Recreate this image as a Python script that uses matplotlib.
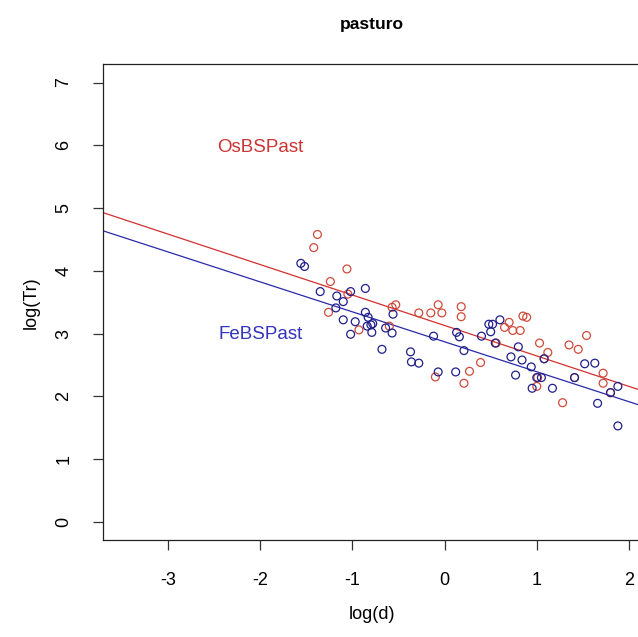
import matplotlib
matplotlib.use('Agg')
import matplotlib.pyplot as plt
import numpy as np

plt.rcParams['font.family'] = ['Liberation Sans', 'DejaVu Sans']
plt.rcParams['axes.unicode_minus'] = False

# OsBSPast (red) points, log(d) vs log(Tr)
os_x = [-1.38, -1.42, -1.06, -1.24, -1.05, -1.26, -0.93, -0.53, -0.57, -0.28,
        -0.15, -0.07, -0.03, -0.60, 0.18, 0.18, 0.85, 0.89, 0.70, 0.65,
        0.74, 0.82, 0.56, 1.54, 1.03, 1.12, 1.08, 1.35, 1.45, 0.39,
        0.27, 0.21, 1.41, 1.01, 1.00, 1.28, 1.72, 1.72, 1.80, -0.10]
os_y = [4.58, 4.37, 4.03, 3.83, 3.63, 3.34, 3.06, 3.46, 3.42, 3.33,
        3.33, 3.46, 3.33, 3.12, 3.43, 3.27, 3.28, 3.26, 3.18, 3.10,
        3.05, 3.05, 2.85, 2.97, 2.85, 2.70, 2.60, 2.82, 2.75, 2.54,
        2.40, 2.21, 2.30, 2.30, 2.16, 1.90, 2.37, 2.21, 2.06, 2.31]

# FeBSPast (blue) points
fe_x = [-1.56, -1.52, -1.35, -0.86, -1.17, -1.02, -1.10, -1.18, -1.10, -0.97,
        -1.02, -0.86, -0.83, -0.80, -0.84, -0.78, -0.79, -0.64, -0.57, -0.56,
        -0.12, -0.68, -0.37, -0.36, -0.28, -0.07, 0.60, 0.48, 0.52, 0.50,
        0.13, 0.16, 0.40, 0.55, 0.80, 0.21, 0.72, 0.84, 0.94, 1.08,
        1.52, 1.63, 0.12, 0.77, 1.00, 1.05, 0.95, 1.17, 1.41, 1.66,
        1.88, 1.88, 1.80]
fe_y = [4.12, 4.07, 3.67, 3.72, 3.60, 3.67, 3.51, 3.41, 3.22, 3.19,
        2.99, 3.34, 3.26, 3.14, 3.12, 3.16, 3.02, 3.09, 3.01, 3.31,
        2.96, 2.75, 2.71, 2.55, 2.53, 2.39, 3.22, 3.15, 3.15, 3.03,
        3.02, 2.95, 2.96, 2.85, 2.79, 2.73, 2.63, 2.58, 2.47, 2.60,
        2.52, 2.53, 2.39, 2.34, 2.30, 2.30, 2.13, 2.13, 2.30, 1.89,
        2.16, 1.53, 2.06]

# fitted lines (intercept, slope)
os_fit = (3.13, -0.485)
fe_fit = (2.87, -0.477)

red_pt = '#cf4a3a'
blue_pt = '#1f1f8a'
red_ln = '#d03030'
blue_ln = '#2a2aa8'

fig = plt.figure(figsize=(6.38, 6.37), dpi=100)
ax = fig.add_axes([0.161, 0.152, 0.845, 0.747])

xlim = (-3.71, 2.14)
ax.set_xlim(*xlim)
ax.set_ylim(-0.29, 7.29)

ax.scatter(os_x, os_y, s=32, facecolors='none', edgecolors=red_pt, linewidths=0.9, zorder=3)
ax.scatter(fe_x, fe_y, s=32, facecolors='none', edgecolors=blue_pt, linewidths=0.9, zorder=3)

xx = np.array(xlim)
ax.plot(xx, os_fit[0] + os_fit[1] * xx, color=red_ln, linewidth=0.9)
ax.plot(xx, fe_fit[0] + fe_fit[1] * xx, color=blue_ln, linewidth=0.9)

ax.text(-2.0, 5.97, 'OsBSPast', color='#cc3333', fontsize=13.5, ha='center', va='center')
ax.text(-2.0, 2.98, 'FeBSPast', color='#3333bb', fontsize=13.5, ha='center', va='center')

ax.set_xticks([-3, -2, -1, 0, 1, 2])
ax.set_yticks(range(0, 8))
ax.tick_params(axis='both', length=7, width=0.9, color='#333333', labelsize=13)
ax.tick_params(axis='x', pad=16)
ax.tick_params(axis='y', pad=15)
for lab in ax.get_yticklabels():
    lab.set_rotation(90)
    lab.set_va('center')
for s in ['left', 'bottom', 'top']:
    ax.spines[s].set_linewidth(0.9)
    ax.spines[s].set_color('#222222')
ax.spines['right'].set_visible(False)

ax.set_xlabel('log(d)', fontsize=13)
ax.set_ylabel('log(Tr)', fontsize=13)
ax.xaxis.set_label_coords(0.5, -0.139)
ax.yaxis.set_label_coords(-0.116, 0.5)

fig.text(0.583, 0.961, 'pasturo', fontsize=12.5, fontweight='bold', ha='center', va='center')

fig.savefig('out.png', dpi=100)
